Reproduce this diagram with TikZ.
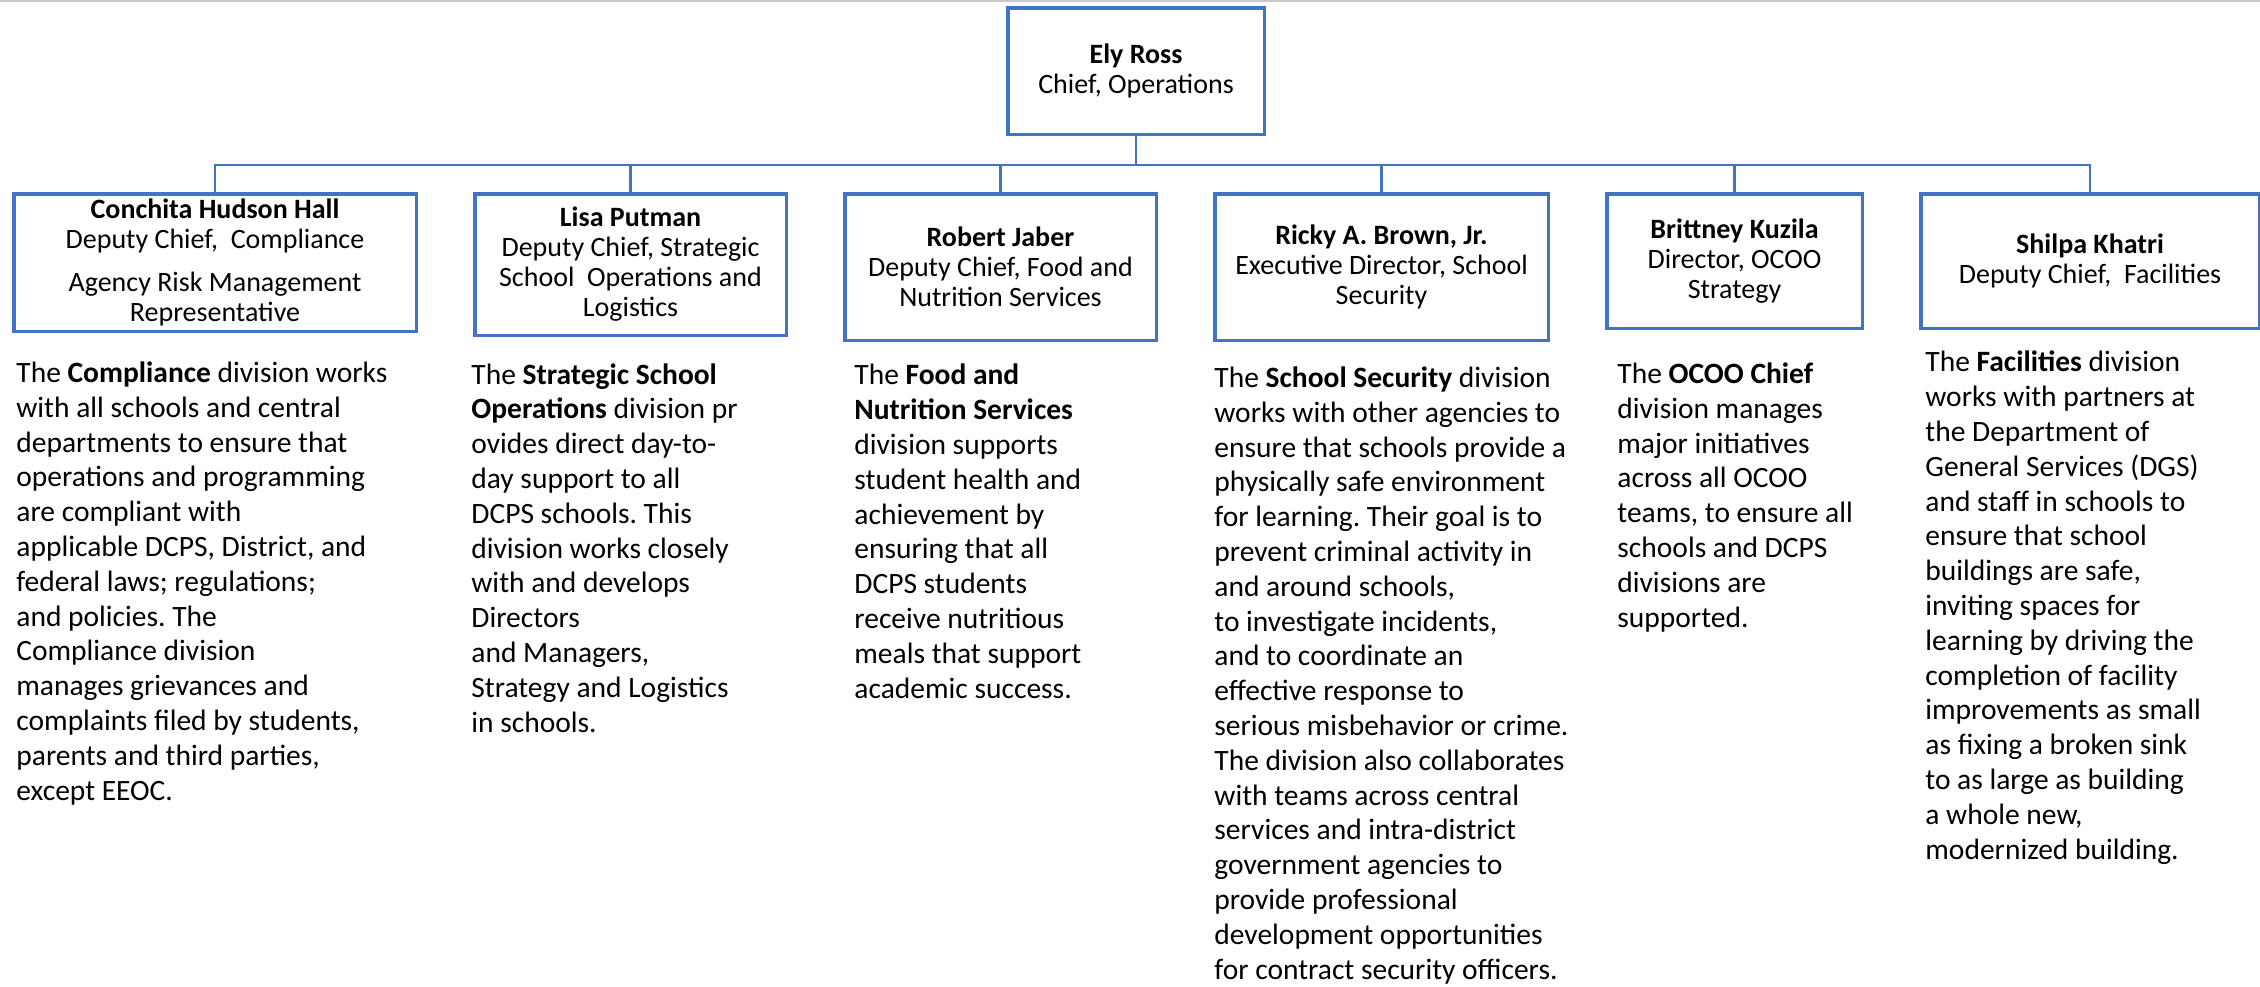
\documentclass[tikz,border=0pt]{standalone}
\usepackage{fontspec}
\setmainfont{Carlito}
\usetikzlibrary{positioning}
\definecolor{orgblue}{HTML}{4472C4}
\definecolor{rulegray}{HTML}{C6CACE}
\frenchspacing

\begin{document}
\begin{tikzpicture}[x=0.5pt, y=-0.5pt, node distance=27.5pt,
    box/.style={draw=orgblue, line width=1.75pt, rectangle, align=center, inner sep=0pt, font=\fontsize{14}{15}\selectfont},
    desc/.style={align=left, inner sep=0pt, anchor=base west, font=\fontsize{14.75}{17.4}\selectfont},
    link/.style={draw=orgblue, line width=1.2pt}]
    \useasboundingbox (0,0) rectangle (2260,986);
    \draw[rulegray, line width=1pt] (0,1) -- (2260,1);
    \node[box, minimum width=128.25pt, minimum height=63.25pt] (chief) at (1136,71) {\textbf{Ely Ross}\\Chief, Operations};
    \node[box, minimum width=201.25pt, minimum height=68.75pt, anchor=north west] (dep1) at (12,192) {\textbf{Conchita Hudson Hall}\\Deputy Chief,~ Compliance\\[6.5pt]Agency Risk Management\\Representative};
    \node[box, minimum width=155.75pt, minimum height=70.75pt, right=of dep1.north east, anchor=north west] (dep2) {\textbf{Lisa Putman}\\Deputy Chief, Strategic\\School~ Operations and\\Logistics};
    \node[box, minimum width=155.75pt, minimum height=73.25pt, right=of dep2.north east, anchor=north west] (dep3) {\textbf{Robert Jaber}\\Deputy Chief, Food and\\Nutrition Services};
    \node[box, minimum width=166.75pt, minimum height=73.25pt, right=of dep3.north east, anchor=north west] (dep4) {\textbf{Ricky A. Brown, Jr.}\\Executive Director, School\\Security};
    \node[box, minimum width=127.75pt, minimum height=67.25pt, right=of dep4.north east, anchor=north west] (dep5) {\textbf{Brittney Kuzila}\\Director, OCOO\\Strategy};
    \node[box, minimum width=169.25pt, minimum height=67.25pt, right=of dep5.north east, anchor=north west] (dep6) {\textbf{Shilpa Khatri}\\Deputy Chief,~ Facilities};
    \coordinate (bus) at (0,165);
    \draw[link] (chief.south) |- (dep1.north |- bus) -- (dep1.north);
    \draw[link] (chief.south) |- (dep2.north |- bus) -- (dep2.north);
    \draw[link] (chief.south) |- (dep3.north |- bus) -- (dep3.north);
    \draw[link] (chief.south) |- (dep4.north |- bus) -- (dep4.north);
    \draw[link] (chief.south) |- (dep5.north |- bus) -- (dep5.north);
    \draw[link] (chief.south) |- (dep6.north |- bus) -- (dep6.north);
    \node[desc] (desc1) at (16,800) {The \textbf{Compliance} division works\\with all schools and central\\departments to ensure that\\operations and programming\\are compliant with\\applicable DCPS, District, and\\federal laws; regulations;\\and policies. The\\Compliance division\\manages grievances and\\complaints filed by students,\\parents and third parties,\\except EEOC.};
    \node[desc] (desc2) at (471,732) {The \textbf{Strategic School}\\\textbf{Operations} division pr\\ovides direct day-to-\\day support to all\\DCPS schools. This\\division works closely\\with and develops\\Directors\\and Managers,\\Strategy and Logistics\\in schools.};
    \node[desc] (desc3) at (854,698) {The \textbf{Food and}\\\textbf{Nutrition Services}\\division supports\\student health and\\achievement by\\ensuring that all\\DCPS students\\receive nutritious\\meals that support\\academic success.};
    \node[desc] (desc4) at (1214,979) {The \textbf{School Security} division\\works with other agencies to\\ensure that schools provide a\\physically safe environment\\for learning. Their goal is to\\prevent criminal activity in\\and around schools,\\to investigate incidents,\\and to coordinate an\\effective response to\\serious misbehavior or crime.\\The division also collaborates\\with teams across central\\services and intra-district\\government agencies to\\provide professional\\development opportunities\\for contract security officers.};
    \node[desc] (desc5) at (1617,627) {The \textbf{OCOO Chief}\\division manages\\major initiatives\\across all OCOO\\teams, to ensure all\\schools and DCPS\\divisions are\\supported.};
    \node[desc] (desc6) at (1925,859) {The \textbf{Facilities} division\\works with partners at\\the Department of\\General Services (DGS)\\and staff in schools to\\ensure that school\\buildings are safe,\\inviting spaces for\\learning by driving the\\completion of facility\\improvements as small\\as fixing a broken sink\\to as large as building\\a whole new,\\modernized building.};
\end{tikzpicture}
\end{document}
